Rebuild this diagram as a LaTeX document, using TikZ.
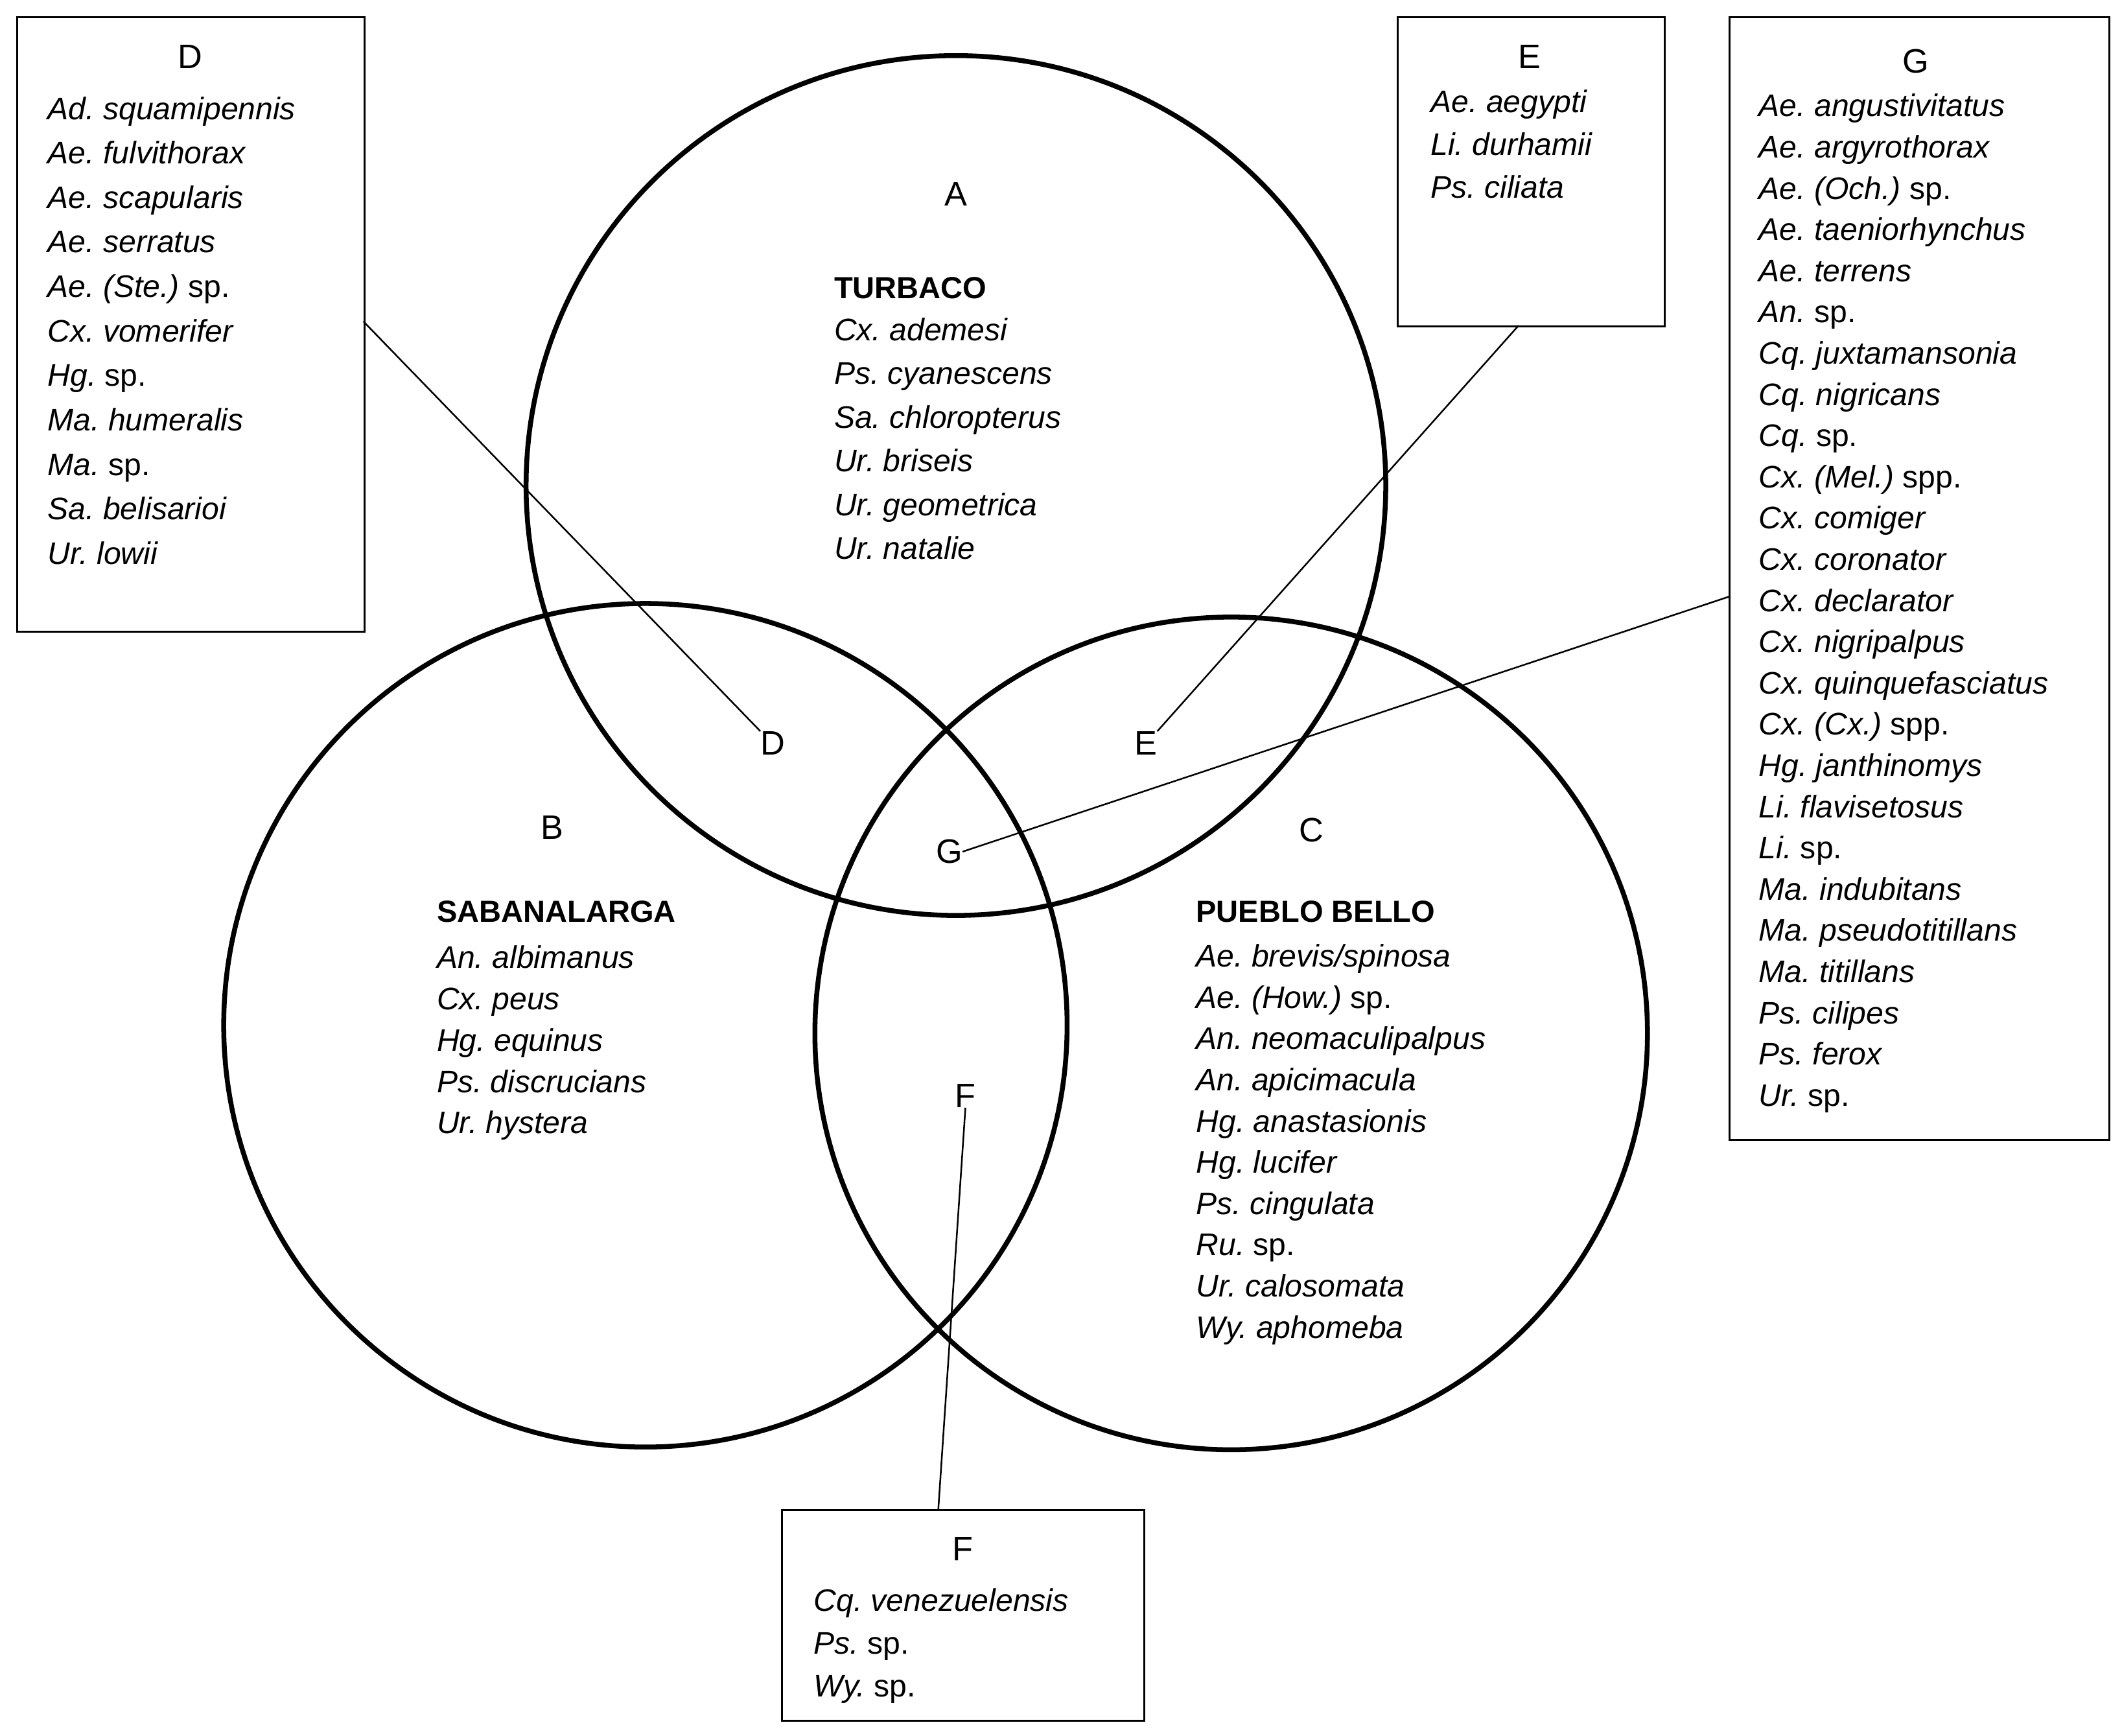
\documentclass[tikz,border=0pt]{standalone}
\usepackage{fontspec}
\setmainfont{Liberation Sans}
\begin{document}
\frenchspacing
\begin{tikzpicture}[x=1pt,y=-1pt,
  circ/.style={draw,line width=3.6pt},
  box/.style={draw,line width=1.4pt,inner sep=0,anchor=north west},
  lead/.style={line width=1.2pt},
  ttl/.style={font=\fontsize{25}{28}\selectfont,anchor=center,inner sep=0},
  hd/.style={font=\fontsize{22.5}{26}\selectfont\bfseries,anchor=base west,inner sep=0},
  it/.style={font=\fontsize{23}{26}\selectfont,anchor=base west,inner sep=0}]
\useasboundingbox (0,0) rectangle (1565,1280);
% circles
\node[circ,circle,minimum size=634pt] (cA) at (705,358) {};
\node[circ,circle,minimum size=622pt] (cB) at (476,756) {};
\node[circ,circle,minimum size=614pt] (cC) at (908,762) {};
% boxes
\node[box,minimum width=256pt,minimum height=453pt] (bD) at (12,12) {};
\node[box,minimum width=197pt,minimum height=228pt] (bE) at (1030,12) {};
\node[box,minimum width=280pt,minimum height=828pt] (bG) at (1275,12) {};
\node[box,minimum width=267pt,minimum height=155pt] (bF) at (576,1113) {};
% region labels
\node[ttl] (lA) at (705,143) {A};
\node[ttl] (lB) at (407,610) {B};
\node[ttl] (lC) at (967,612) {C};
\node[ttl] (lD) at (570,548) {D};
\node[ttl] (lE) at (845,548) {E};
\node[ttl] (lG) at (700,628) {G};
\node[ttl] (lF) at (712,808) {F};
\node[ttl] (tD) at (140,42) {D};
\node[ttl] (tE) at (1128,42) {E};
\node[ttl] (tG) at (1413,45) {G};
\node[ttl] (tF) at (710,1142) {F};
\node[hd] (hA) at (615,220) {TURBACO};
\node[hd] (hB) at (322,680) {SABANALARGA};
\node[hd] (hC) at (882,680) {PUEBLO BELLO};
% leader lines
\coordinate (pD) at (268,237);
\coordinate (pE) at (1120,240);
\coordinate (pG) at (1275,440);
\coordinate (pF) at (692,1113);
\draw[lead] (pD) -- (lD.north west);
\draw[lead] (pE) -- (lE.north east);
\draw[lead] (pG) -- (lG.east);
\draw[lead] (pF) -- (lF.south);
% lists
\foreach \t [count=\i] in {\textit{Cx. ademesi},\textit{Ps. cyanescens},\textit{Sa. chloropterus},\textit{Ur. briseis},\textit{Ur. geometrica},\textit{Ur. natalie}}
  \node[it] (A-\i) at (615,251+32.3*\i-32.3) {\t};
\foreach \t [count=\i] in {\textit{An. albimanus},\textit{Cx. peus},\textit{Hg. equinus},\textit{Ps. discrucians},\textit{Ur. hystera}}
  \node[it] (B-\i) at (322,714+30.5*\i-30.5) {\t};
\foreach \t [count=\i] in {\textit{Ae. brevis/spinosa},\textit{Ae. (How.)} sp.,\textit{An. neomaculipalpus},\textit{An. apicimacula},\textit{Hg. anastasionis},\textit{Hg. lucifer},\textit{Ps. cingulata},\textit{Ru.} sp.,\textit{Ur. calosomata},\textit{Wy. aphomeba}}
  \node[it] (C-\i) at (882,713+30.4*\i-30.4) {\t};
\foreach \t [count=\i] in {\textit{Ad. squamipennis},\textit{Ae. fulvithorax},\textit{Ae. scapularis},\textit{Ae. serratus},\textit{Ae. (Ste.)} sp.,\textit{Cx. vomerifer},\textit{Hg.} sp.,\textit{Ma. humeralis},\textit{Ma.} sp.,\textit{Sa. belisarioi},\textit{Ur. lowii}}
  \node[it] (D-\i) at (35,88+32.8*\i-32.8) {\t};
\foreach \t [count=\i] in {\textit{Ae. aegypti},\textit{Li. durhamii},\textit{Ps. ciliata}}
  \node[it] (E-\i) at (1055,83+31.5*\i-31.5) {\t};
\foreach \t [count=\i] in {\textit{Ae. angustivitatus},\textit{Ae. argyrothorax},\textit{Ae. (Och.)} sp.,\textit{Ae. taeniorhynchus},\textit{Ae. terrens},\textit{An.} sp.,\textit{Cq. juxtamansonia},\textit{Cq. nigricans},\textit{Cq.} sp.,\textit{Cx. (Mel.)} spp.,\textit{Cx. comiger},\textit{Cx. coronator},\textit{Cx. declarator},\textit{Cx. nigripalpus},\textit{Cx. quinquefasciatus},\textit{Cx. (Cx.)} spp.,\textit{Hg. janthinomys},\textit{Li. flavisetosus},\textit{Li.} sp.,\textit{Ma. indubitans},\textit{Ma. pseudotitillans},\textit{Ma. titillans},\textit{Ps. cilipes},\textit{Ps. ferox},\textit{Ur.} sp.}
  \node[it] (G-\i) at (1297,86+30.4*\i-30.4) {\t};
\foreach \t [count=\i] in {\textit{Cq. venezuelensis},\textit{Ps.} sp.,\textit{Wy.} sp.}
  \node[it] (F-\i) at (600,1188+31.5*\i-31.5) {\t};
\end{tikzpicture}
\end{document}
